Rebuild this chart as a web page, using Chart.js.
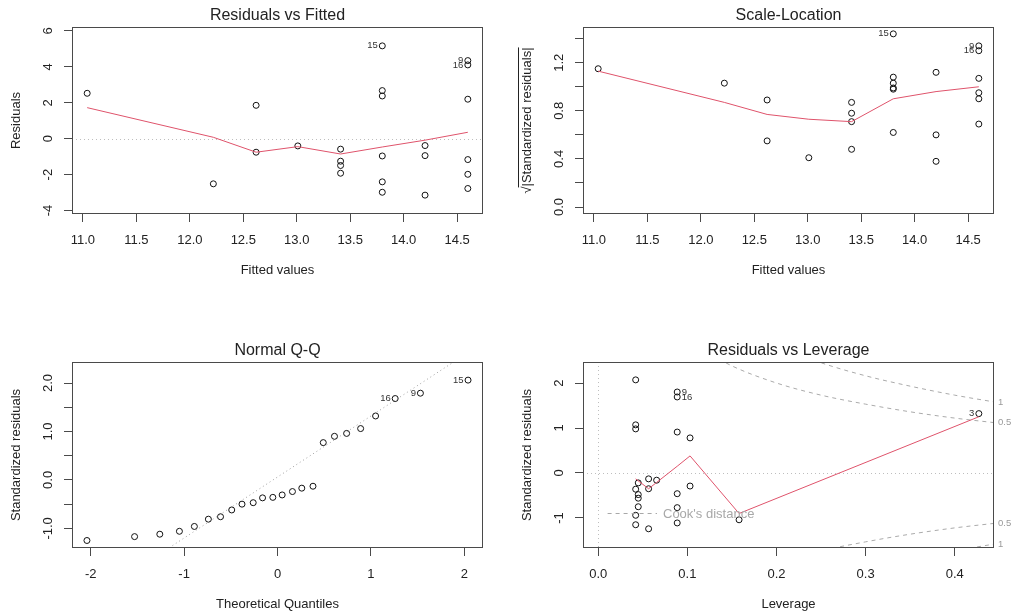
<!DOCTYPE html>
<html>
<head>
<meta charset="utf-8">
<script src="https://cdn.jsdelivr.net/npm/chart.js@4.4.0/dist/chart.umd.min.js"></script>
<style>
  html, body { margin: 0; padding: 0; background: #fff; }
  #wrap { position: relative; width: 1011px; height: 616px; }
  canvas { position: absolute; }
</style>
</head>
<body>
<div id="wrap">
  <canvas id="rvf" width="505" height="308" style="left:0;top:0"></canvas>
  <canvas id="sl" width="506" height="308" style="left:505px;top:0"></canvas>
  <canvas id="qq" width="505" height="308" style="left:0;top:308px"></canvas>
  <canvas id="rvl" width="506" height="308" style="left:505px;top:308px"></canvas>
</div>
<script>
// lm diagnostics, values

// Residuals vs Fitted / Scale-Location (same observations, grouped by fitted value)
const fitted = [11.04, 12.22, 12.62, 12.62, 13.01, 13.41, 13.41, 13.41, 13.41, 13.80, 13.80, 13.80, 13.80, 13.80, 13.80, 14.20, 14.20, 14.20, 14.60, 14.60, 14.60, 14.60, 14.60, 14.60];
const residuals = [2.53, -2.51, 1.86, -0.75, -0.40, -0.58, -1.25, -1.49, -1.92, 5.17, 2.68, 2.38, -0.96, -2.40, -2.98, -0.38, -0.94, -3.14, 4.35, 4.11, 2.20, -1.16, -1.98, -2.77];
const sqrtStdResid = [1.15, 1.03, 0.89, 0.55, 0.41, 0.87, 0.78, 0.71, 0.48, 1.44, 1.08, 1.03, 0.99, 0.98, 0.62, 1.12, 0.60, 0.38, 1.34, 1.30, 1.07, 0.95, 0.90, 0.69];

// lowess lines
const smoothFitted = [11.04, 12.22, 12.62, 13.01, 13.41, 13.80, 14.20, 14.60];
const residSmooth = [1.73, 0.08, -0.75, -0.44, -0.85, -0.46, -0.08, 0.36];
const scaleSmooth = [1.13, 0.87, 0.77, 0.73, 0.71, 0.90, 0.96, 1.00];

// Normal Q-Q
const theoQuantiles = [-2.04, -1.53, -1.26, -1.05, -0.89, -0.74, -0.61, -0.49, -0.38, -0.26, -0.16, -0.05, 0.05, 0.16, 0.26, 0.38, 0.49, 0.61, 0.74, 0.89, 1.05, 1.26, 1.53, 2.04];
const stdResidSorted = [-1.25, -1.17, -1.12, -1.06, -0.96, -0.81, -0.76, -0.62, -0.50, -0.47, -0.37, -0.36, -0.31, -0.24, -0.17, -0.13, 0.77, 0.90, 0.96, 1.06, 1.32, 1.68, 1.79, 2.06];
const qqLineX = [-2.2, 2.2];
const qqLineY = [-2.71, 2.83];

// Residuals vs Leverage
const leverage = [0.042, 0.0886, 0.0886, 0.042, 0.042, 0.0886, 0.103, 0.0565, 0.0655, 0.0449, 0.042, 0.0565, 0.103, 0.0449, 0.0449, 0.0449, 0.0886, 0.042, 0.0886, 0.042, 0.0886, 0.0565, 0.158, 0.427];
const levStdResid = [2.07, 1.80, 1.69, 1.07, 0.98, 0.91, 0.78, -0.13, -0.16, -0.22, -0.36, -0.35, -0.29, -0.48, -0.56, -0.75, -0.46, -0.94, -0.77, -1.15, -1.11, -1.24, -1.04, 1.32];
const levSmoothX = [0.042, 0.0565, 0.0655, 0.0886, 0.103, 0.158, 0.427];
const levSmoothY = [-0.13, -0.35, -0.21, 0.15, 0.38, -0.90, 1.25];

// Cook's distance contours (0.5 and 1)
const cookHalfLev = [0.12, 0.15, 0.2, 0.25, 0.3, 0.35, 0.4, 0.444];
const cookHalfUpper = [2.71, 2.38, 2.00, 1.73, 1.53, 1.36, 1.22, 1.12];
const cookHalfLower = [-2.71, -2.38, -2.00, -1.73, -1.53, -1.36, -1.22, -1.12];
const cookOneLev = [0.2, 0.25, 0.3, 0.35, 0.4, 0.444];
const cookOneUpper = [2.83, 2.45, 2.16, 1.93, 1.73, 1.58];
const cookOneLower = [-2.83, -2.45, -2.16, -1.93, -1.73, -1.58];

// labelled observations
const rvfIdIndex = [9, 18, 19];
const slIdIndex = [9, 18, 19];
const qqIdIndex = [23, 22, 21];
const idText = ['15', '9', '16'];
const levIdIndex = [1, 2, 23];
const levIdText = ['9', '16', '3'];

// tick positions / labels
const fittedTicks = [11.0, 11.5, 12.0, 12.5, 13.0, 13.5, 14.0, 14.5];
const residTicks = [-4, -2, 0, 2, 4, 6];
const slTicks = [0.0, 0.2, 0.4, 0.6, 0.8, 1.0, 1.2, 1.4];
const slLabels = [0.0, 0.4, 0.8, 1.2];
const qqXTicks = [-2, -1, 0, 1, 2];
const qqYTicks = [-1.0, -0.5, 0.0, 0.5, 1.0, 1.5, 2.0];
const qqYLabels = [-1.0, 0.0, 1.0, 2.0];
const levTicks = [0.0, 0.1, 0.2, 0.3, 0.4];
const levYTicks = [-1, 0, 1, 2];

const RED = '#DF536B';
const INK = '#222222';
const FRAME = '#4a4a4a';
const GRAY = '#BEBEBE';
const FONT = "'Liberation Sans', Arial, sans-serif";

Chart.defaults.font.family = FONT;
Chart.defaults.color = INK;

const xy = (xs, ys) => xs.map((x, i) => ({ x: x, y: ys[i] }));
const fix1 = v => Number(v).toFixed(1);
const int0 = v => String(Math.round(v));

function line(ctx, x1, y1, x2, y2) {
    ctx.beginPath();
    ctx.moveTo(x1, y1);
    ctx.lineTo(x2, y2);
    ctx.stroke();
}

// box, titles, rotated y labels, point ids -- the R look
function decor(cfg) {
    return {
        id: 'decor',
        beforeDatasetsDraw(chart) {
            const { ctx, chartArea: a, scales: { x, y } } = chart;
            ctx.save();
            ctx.strokeStyle = GRAY;
            ctx.lineWidth = 1;
            ctx.setLineDash([1, 3]);
            if (cfg.hZero) {
                const py = Math.round(y.getPixelForValue(0)) + 0.5;
                line(ctx, a.left, py, a.right, py);
            }
            if (cfg.vZero) {
                const px = Math.round(x.getPixelForValue(0)) + 0.5;
                line(ctx, px, a.top, px, a.bottom);
            }
            ctx.restore();
        },
        afterDraw(chart) {
            const { ctx, chartArea: a, scales: { x, y } } = chart;
            ctx.save();
            // frame
            ctx.strokeStyle = FRAME;
            ctx.lineWidth = 1;
            ctx.strokeRect(a.left + 0.5, a.top + 0.5, a.right - a.left - 1, a.bottom - a.top - 1);

            ctx.fillStyle = INK;
            ctx.textAlign = 'center';
            ctx.textBaseline = 'middle';
            // main caption
            ctx.font = '16px ' + FONT;
            ctx.fillText(cfg.title, (a.left + a.right) / 2, a.top - 11);
            // x title
            ctx.font = '13px ' + FONT;
            ctx.fillText(cfg.xTitle, (a.left + a.right) / 2, a.bottom + 56);

            // y tick labels, rotated like R's las = 0
            cfg.yLabels.forEach(v => {
                ctx.save();
                ctx.translate(a.left - 23.5, y.getPixelForValue(v));
                ctx.rotate(-Math.PI / 2);
                ctx.fillText(cfg.yFmt(v), 0, 0);
                ctx.restore();
            });

            // y title
            ctx.save();
            ctx.translate(a.left - 56, (a.top + a.bottom) / 2);
            ctx.rotate(-Math.PI / 2);
            if (cfg.sqrtTitle) {
                const rad = '\u221A';
                const body = '|' + cfg.yTitle + '|';
                const wr = ctx.measureText(rad).width;
                const wb = ctx.measureText(body).width;
                const x0 = -(wr + wb) / 2;
                ctx.textAlign = 'left';
                ctx.fillText(rad, x0, 0);
                ctx.fillText(body, x0 + wr, 0);
                ctx.strokeStyle = INK;
                line(ctx, x0 + wr - 1, -8.5, x0 + wr + wb, -8.5);
            } else {
                ctx.fillText(cfg.yTitle, 0, 0);
            }
            ctx.restore();

            // observation ids
            ctx.font = '9.5px ' + FONT;
            ctx.fillStyle = '#333';
            const mid = (x.min + x.max) / 2;
            cfg.ids.index.forEach((k, i) => {
                const vx = cfg.ids.xs[k], vy = cfg.ids.ys[k];
                const px = x.getPixelForValue(vx), py = y.getPixelForValue(vy);
                if (vx > mid) {
                    ctx.textAlign = 'right';
                    ctx.fillText(cfg.ids.text[i], px - 4.5, py);
                } else {
                    ctx.textAlign = 'left';
                    ctx.fillText(cfg.ids.text[i], px + 4.5, py);
                }
            });

            if (cfg.cook) {
                // legend bottomleft
                const ly = Math.round(a.bottom - 34.6) + 0.5;
                ctx.strokeStyle = '#a8a8a8';
                ctx.setLineDash([4, 4]);
                line(ctx, a.left + 24.6, ly, a.left + 74, ly);
                ctx.setLineDash([]);
                ctx.font = '13px ' + FONT;
                ctx.fillStyle = '#a8a8a8';
                ctx.textAlign = 'left';
                ctx.fillText("Cook's distance", a.left + 80, ly + 0.5);
                // contour levels in the right margin
                ctx.font = '9.5px ' + FONT;
                ctx.fillStyle = '#9a9a9a';
                cfg.cook.forEach(c => {
                    ctx.fillText(c.text, a.right + 4, y.getPixelForValue(c.ys[c.ys.length - 1]));
                });
            }
            ctx.restore();
        }
    };
}

function makeScale(min, max, ticks, fit, fmt) {
    return {
        type: 'linear',
        min: min,
        max: max,
        afterBuildTicks: s => { s.ticks = ticks.map(v => ({ value: v })); },
        afterFit: fit,
        border: { display: false },
        grid: { drawOnChartArea: false, drawTicks: true, tickLength: 8, tickColor: FRAME, lineWidth: 1 },
        ticks: {
            display: !!fmt,
            autoSkip: false,
            maxRotation: 0,
            minRotation: 0,
            padding: 11,
            color: INK,
            font: { size: 13 },
            callback: v => (fmt ? fmt(v) : String(v))
        }
    };
}

function pointsSet(data) {
    return {
        data: data,
        showLine: false,
        pointRadius: 3,
        pointBorderWidth: 1,
        pointBorderColor: '#111111',
        pointBackgroundColor: 'rgba(0,0,0,0)',
        order: 2
    };
}

function lineSet(data, color, dash, order) {
    return {
        data: data,
        showLine: true,
        borderColor: color,
        borderWidth: 1,
        borderDash: dash || [],
        pointRadius: 0,
        clip: 0,
        order: order
    };
}

function makePanel(id, box, xs, ys, datasets, cfg) {
    const cv = document.getElementById(id);
    const W = cv.width, H = cv.height;
    return new Chart(cv.getContext('2d'), {
        type: 'scatter',
        data: { datasets: datasets },
        options: {
            responsive: false,
            animation: false,
            events: [],
            layout: { padding: { left: 0, top: box.t, right: W - box.r, bottom: 0 } },
            plugins: { legend: { display: false }, tooltip: { enabled: false } },
            scales: {
                x: makeScale(xs.min, xs.max, xs.ticks, s => { s.height = H - box.b; }, xs.fmt),
                y: makeScale(ys.min, ys.max, ys.ticks, s => { s.width = box.l; }, null)
            }
        },
        plugins: [decor(cfg)]
    });
}

// Residuals vs Fitted
makePanel('rvf', { l: 72, t: 27, r: 483, b: 214 },
    { min: 10.898, max: 14.742, ticks: fittedTicks, fmt: fix1 },
    { min: -4.19, max: 6.22, ticks: residTicks },
    [lineSet(xy(smoothFitted, residSmooth), RED, null, 1), pointsSet(xy(fitted, residuals))],
    { title: 'Residuals vs Fitted', xTitle: 'Fitted values', yTitle: 'Residuals',
      yLabels: residTicks, yFmt: int0, hZero: true,
      ids: { index: rvfIdIndex, text: idText, xs: fitted, ys: residuals } });

// Scale-Location
makePanel('sl', { l: 78, t: 27, r: 489, b: 214 },
    { min: 10.898, max: 14.742, ticks: fittedTicks, fmt: fix1 },
    { min: -0.058, max: 1.497, ticks: slTicks },
    [lineSet(xy(smoothFitted, scaleSmooth), RED, null, 1), pointsSet(xy(fitted, sqrtStdResid))],
    { title: 'Scale-Location', xTitle: 'Fitted values', yTitle: 'Standardized residuals', sqrtTitle: true,
      yLabels: slLabels, yFmt: fix1,
      ids: { index: slIdIndex, text: idText, xs: fitted, ys: sqrtStdResid } });

// Normal Q-Q
makePanel('qq', { l: 72, t: 54, r: 483, b: 240 },
    { min: -2.2, max: 2.2, ticks: qqXTicks, fmt: int0 },
    { min: -1.405, max: 2.434, ticks: qqYTicks },
    [lineSet(xy(qqLineX, qqLineY), '#a0a0a0', [1, 3], 3), pointsSet(xy(theoQuantiles, stdResidSorted))],
    { title: 'Normal Q-Q', xTitle: 'Theoretical Quantiles', yTitle: 'Standardized residuals',
      yLabels: qqYLabels, yFmt: fix1,
      ids: { index: qqIdIndex, text: idText, xs: theoQuantiles, ys: stdResidSorted } });

// Residuals vs Leverage
const cookCurves = [
    { text: '1', ys: cookOneUpper },
    { text: '0.5', ys: cookHalfUpper },
    { text: '0.5', ys: cookHalfLower },
    { text: '1', ys: cookOneLower }
];
makePanel('rvl', { l: 78, t: 54, r: 489, b: 240 },
    { min: -0.0171, max: 0.444, ticks: levTicks, fmt: fix1 },
    { min: -1.667, max: 2.467, ticks: levYTicks },
    [
        lineSet(xy(levSmoothX, levSmoothY), RED, null, 1),
        pointsSet(xy(leverage, levStdResid)),
        Object.assign(lineSet(xy(cookHalfLev, cookHalfUpper), '#aaaaaa', [4, 4], 3), { cubicInterpolationMode: 'monotone' }),
        Object.assign(lineSet(xy(cookHalfLev, cookHalfLower), '#aaaaaa', [4, 4], 3), { cubicInterpolationMode: 'monotone' }),
        Object.assign(lineSet(xy(cookOneLev, cookOneUpper), '#aaaaaa', [4, 4], 3), { cubicInterpolationMode: 'monotone' }),
        Object.assign(lineSet(xy(cookOneLev, cookOneLower), '#aaaaaa', [4, 4], 3), { cubicInterpolationMode: 'monotone' })
    ],
    { title: 'Residuals vs Leverage', xTitle: 'Leverage', yTitle: 'Standardized residuals',
      yLabels: levYTicks, yFmt: int0, hZero: true, vZero: true, cook: cookCurves,
      ids: { index: levIdIndex, text: levIdText, xs: leverage, ys: levStdResid } });
</script>
</body>
</html>
